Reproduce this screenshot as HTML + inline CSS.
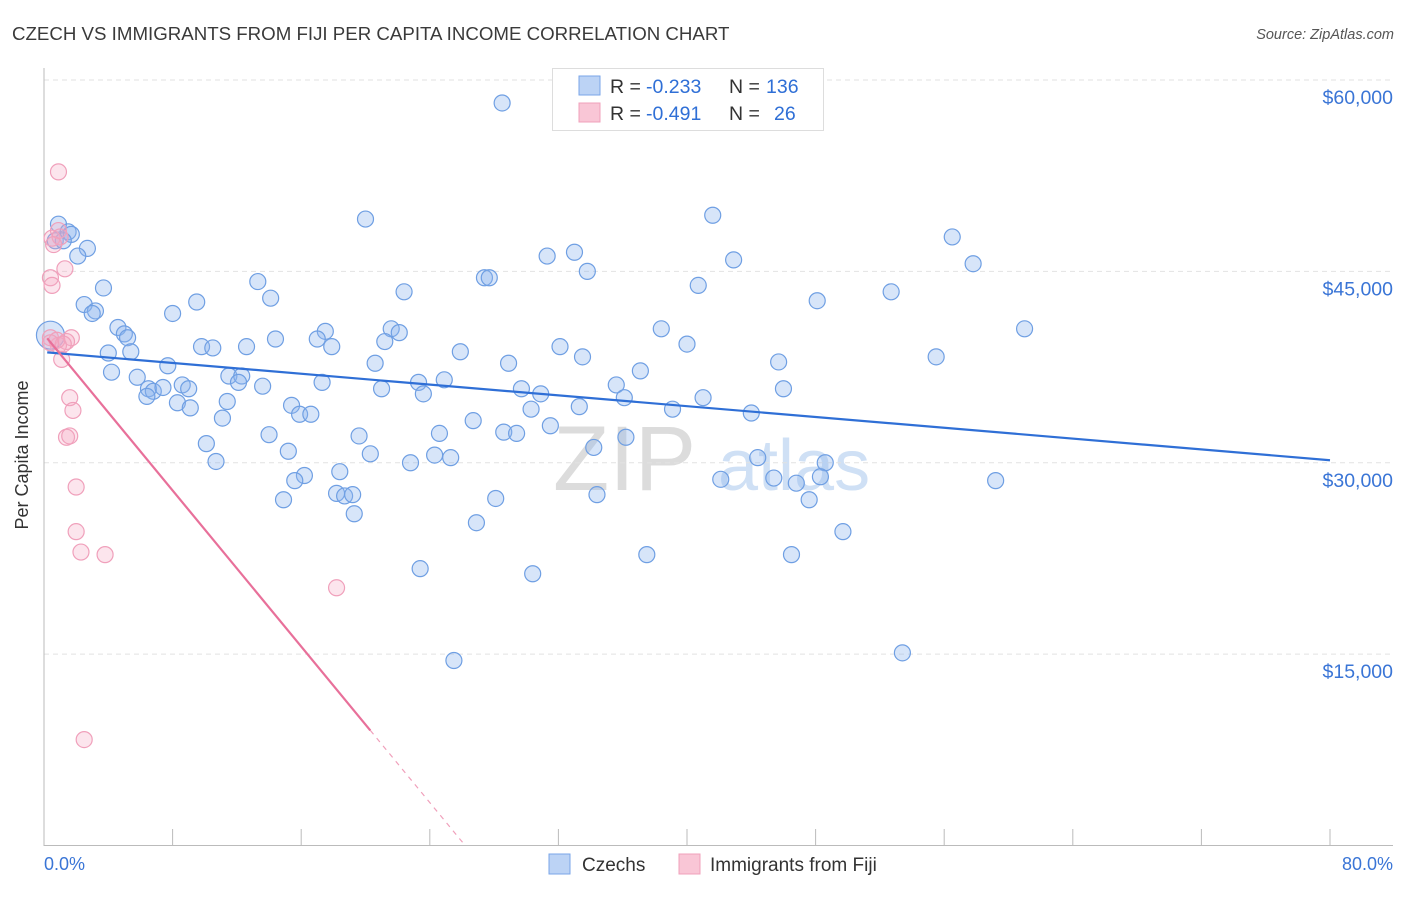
<!DOCTYPE html>
<html><head><meta charset="utf-8"><style>
body{margin:0;background:#fff;width:1406px;height:892px;overflow:hidden;font-family:"Liberation Sans",sans-serif}
svg text{font-family:"Liberation Sans",sans-serif}
</style></head><body>
<svg id="chart" width="1406" height="892">
<text x="12" y="40" font-size="18.7" fill="#3a3a3a">CZECH VS IMMIGRANTS FROM FIJI PER CAPITA INCOME CORRELATION CHART</text>
<text x="1394" y="39" font-size="14.5" font-style="italic" fill="#555" text-anchor="end">Source: ZipAtlas.com</text>
<g><text x="553" y="490" font-size="92" font-family="Liberation Serif" fill="#dcdcdc">ZIP</text><text x="718" y="490" font-size="72" fill="#cfe0f5">atlas</text></g>
<g id="grid"></g>
<g id="axes"></g>
<g id="pts"></g>
<g id="trend"></g>
<text x="28" y="455" font-size="18" fill="#333" text-anchor="middle" transform="rotate(-90 28 455)">Per Capita Income</text>
<text x="44" y="870" font-size="18" fill="#3a75d6">0.0%</text>
<text x="1393" y="870" font-size="18" fill="#3a75d6" text-anchor="end">80.0%</text>
<g>
<rect x="552.5" y="68.5" width="271" height="62" fill="#fff" stroke="#ddd"/>
<rect x="579" y="76" width="21" height="19" fill="#bcd3f5" stroke="#7aa6e8"/>
<rect x="579" y="103" width="21" height="19" fill="#f9c6d6" stroke="#f0a0bb"/>
<text x="610" y="93" font-size="19.5" fill="#333">R =</text>
<text x="646" y="93" font-size="19.5" fill="#2f6fd6">-0.233</text>
<text x="729" y="93" font-size="19.5" fill="#333">N =</text>
<text x="766" y="93" font-size="19.5" fill="#2f6fd6">136</text>
<text x="610" y="120" font-size="19.5" fill="#333">R =</text>
<text x="646" y="120" font-size="19.5" fill="#2f6fd6">-0.491</text>
<text x="729" y="120" font-size="19.5" fill="#333">N =</text>
<text x="774" y="120" font-size="19.5" fill="#2f6fd6">26</text>
</g>
<g>
<rect x="549" y="854" width="21" height="20" fill="#bcd3f5" stroke="#7aa6e8"/>
<text x="582" y="871" font-size="19" fill="#333">Czechs</text>
<rect x="679" y="854" width="21" height="20" fill="#f9c6d6" stroke="#f0a0bb"/>
<text x="710" y="871" font-size="19" fill="#333">Immigrants from Fiji</text>
</g>
</svg>
<script>
const yTicks=[15000,30000,45000,60000];
const yTickLabels=["$15,000","$30,000","$45,000","$60,000"];
const xTicks=[0,8,16,24,32,40,48,56,64,72,80];
const czechX=[28.5,0.9,0.7,1.5,1.7,1.2,2.7,2.1,20.0,41.6,56.5,31.3,33.0,33.8,42.9,57.8,27.4,27.7,13.3,3.7,22.4,40.7,52.7,14.1,9.5,2.5,3.2,3.0,8.0,48.1,61.0,4.6,5.0,5.2,17.5,21.6,22.1,38.4,14.4,17.0,21.2,9.8,10.5,12.6,17.9,32.1,40.0,4.0,5.4,25.9,55.5,33.5,45.7,7.7,20.6,28.9,37.1,4.2,5.8,11.5,12.3,12.1,13.6,17.3,8.6,6.5,6.8,7.4,9.0,21.0,23.3,24.9,29.7,30.9,35.6,36.1,23.6,46.0,41.0,6.4,8.3,9.1,11.4,15.4,15.9,16.6,33.3,30.3,39.1,44.0,11.1,26.7,31.5,10.1,14.0,19.6,24.6,28.6,29.4,36.2,34.2,20.3,24.3,25.3,10.7,22.8,44.4,15.2,48.6,18.4,16.2,42.1,45.4,46.8,48.3,59.2,15.6,14.9,18.2,18.7,19.2,28.1,34.4,47.6,19.3,26.9,49.7,37.5,46.5,23.4,30.4,53.4,25.5,0.4];
const czechY=[58.2,48.7,47.4,48.1,47.9,47.4,46.8,46.2,49.1,49.4,47.7,46.2,46.5,45.0,45.9,45.6,44.5,44.5,44.2,43.7,43.4,43.9,43.4,42.9,42.6,42.4,41.9,41.7,41.7,42.7,40.5,40.6,40.1,39.8,40.3,40.5,40.2,40.5,39.7,39.7,39.5,39.1,39.0,39.1,39.1,39.1,39.3,38.6,38.7,38.7,38.3,38.3,37.9,37.6,37.8,37.8,37.2,37.1,36.7,36.8,36.8,36.3,36.0,36.3,36.1,35.8,35.6,35.9,35.8,35.8,36.3,36.5,35.8,35.4,36.1,35.1,35.4,35.8,35.1,35.2,34.7,34.3,34.8,34.5,33.8,33.8,34.4,34.2,34.2,33.9,33.5,33.3,32.9,31.5,32.2,32.1,32.3,32.4,32.3,32.0,31.2,30.7,30.6,30.4,30.1,30.0,30.4,30.9,30.0,29.3,29.0,28.7,28.8,28.4,28.9,28.6,28.6,27.1,27.6,27.4,27.5,27.2,27.5,27.1,26.0,25.3,24.6,22.8,22.8,21.7,21.3,15.1,14.5,40.0];
const fijiX=[0.9,0.5,0.9,1.0,0.6,1.3,0.4,0.5,1.7,1.4,0.9,1.1,1.6,1.8,1.4,1.6,2.0,2.0,2.3,3.8,18.2,2.5,0.4,0.8,1.2,0.4];
const fijiY=[52.8,47.6,48.2,47.7,47.1,45.2,44.5,43.9,39.8,39.5,39.2,38.1,35.1,34.1,32.0,32.1,28.1,24.6,23.0,22.8,20.2,8.3,39.8,39.6,39.3,39.4];
const czechTrend=[38.67,-0.1059];
const fijiTrend=[40.06,-1.529];
const fijiSolidEnd=20.3;

const NS="http://www.w3.org/2000/svg";
const X0=44,X1=1330,YB=845.5,YT=80;
const xs=v=>X0+(v/80)*(X1-X0);
const ys=v=>YB-(v/60000)*(YB-YT);
function mk(tag,attrs,parent){const e=document.createElementNS(NS,tag);for(const k in attrs)e.setAttribute(k,attrs[k]);parent.appendChild(e);return e;}
const grid=document.getElementById('grid'),axes=document.getElementById('axes'),pts=document.getElementById('pts'),trend=document.getElementById('trend');
yTicks.forEach((t,i)=>{
 const l=mk('line',{x1:X0,x2:1393,y1:ys(t),y2:ys(t),stroke:'#e2e2e2','stroke-dasharray':'5,4'},grid);
 
 
 const tx=mk('text',{x:1393,y:ys(t)+24,'font-size':19.5,fill:'#3a75d6','text-anchor':'end'},grid);
 tx.textContent=yTickLabels[i];
 
 
});
const ya=mk('line',{x1:X0,x2:X0,y1:68,y2:846,stroke:'#bbb'},axes);


const xa=mk('line',{x1:X0,x2:1393,y1:845.5,y2:845.5,stroke:'#bbb'},axes);


xTicks.forEach(t=>{
 const l=mk('line',{x1:xs(t),x2:xs(t),y1:829,y2:846,stroke:'#bbb'},axes);
 
 
});
czechX.forEach((x,i)=>{
 const big=(i===czechX.length-1);
 const c=mk('circle',{cx:xs(x),cy:ys(czechY[i]*1000),r:big?14:8,fill:'rgba(140,180,238,0.35)',stroke:'#6f9fe3','stroke-width':1.2},pts);
 
 
});
fijiX.forEach((x,i)=>{
 const c=mk('circle',{cx:xs(x),cy:ys(fijiY[i]*1000),r:8,fill:'rgba(245,170,195,0.3)',stroke:'#f0a0bb','stroke-width':1.2},pts);
 
 
});
const f=(tr,x)=>(tr[0]+tr[1]*x)*1000;
const bl=mk('line',{x1:xs(0.2),y1:ys(f(czechTrend,0.2)),x2:xs(80),y2:ys(f(czechTrend,80)),stroke:'#2f6fd6','stroke-width':2.2},trend);


const pl=mk('line',{x1:xs(0.2),y1:ys(f(fijiTrend,0.2)),x2:xs(fijiSolidEnd),y2:ys(f(fijiTrend,fijiSolidEnd)),stroke:'#e8709a','stroke-width':2.2},trend);


const xz=-fijiTrend[0]/fijiTrend[1];
const pd=mk('line',{x1:xs(fijiSolidEnd),y1:ys(f(fijiTrend,fijiSolidEnd)),x2:xs(xz),y2:ys(0),stroke:'#f0a0bb','stroke-width':1.2,'stroke-dasharray':'5,5'},trend);


</script>
</body></html>
